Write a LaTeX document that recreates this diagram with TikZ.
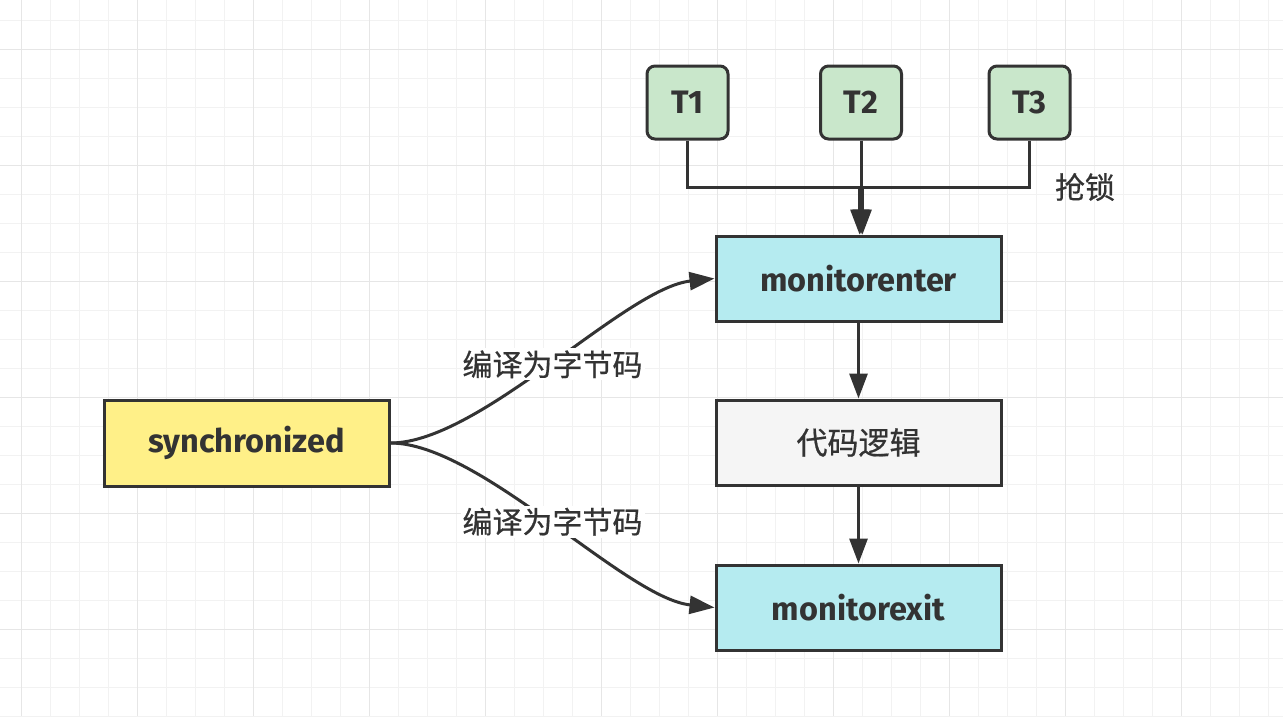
\documentclass[tikz,border=0pt]{standalone}
\usepackage{fontspec}
\newfontfamily\cjk{Noto Sans CJK SC}[FakeBold=0.6]
\newfontfamily\lat{Fira Sans}
\usetikzlibrary{arrows.meta}
\definecolor{ink}{HTML}{333333}
\definecolor{gridmin}{HTML}{F2F2F2}
\definecolor{gridmaj}{HTML}{E6E6E6}
\definecolor{cyanfill}{HTML}{B5EBF0}
\definecolor{greenfill}{HTML}{C9E7CB}
\definecolor{yellowfill}{HTML}{FFF088}
\definecolor{grayfill}{HTML}{F5F5F5}
\tikzset{
  box/.style={draw=ink, line width=3pt, minimum width=285pt, minimum height=85pt,
    inner sep=0pt, text=ink, font=\lat\bfseries\fontsize{32.5}{38}\selectfont},
  tbox/.style={box, rounded corners=8pt, minimum width=81pt, minimum height=73pt, fill=greenfill},
  conn/.style={draw=ink, line width=3pt, -{Triangle[length=25pt,width=18pt]}},
  lab/.style={fill=white, inner sep=2pt, text=ink, font=\cjk\fontsize{30}{36}\selectfont},
  cjktext/.style={text=ink, inner sep=0pt, font=\cjk\fontsize{30}{36}\selectfont}
}
\begin{document}
\begin{tikzpicture}[x=1pt,y=-1pt]
\useasboundingbox (0,0) rectangle (1283,716);
\fill[white] (0,0) rectangle (1283,716);
% grid
\foreach \x in {21,50,...,1283} \draw[gridmin, line width=1pt] (\x,0) -- (\x,716);
\foreach \y in {20,49,...,716} \draw[gridmin, line width=1pt] (0,\y) -- (1283,\y);
\foreach \x in {21,137,...,1283} \draw[gridmaj, line width=1pt] (\x,0) -- (\x,716);
\foreach \y in {49,165,...,716} \draw[gridmaj, line width=1pt] (0,\y) -- (1283,\y);
% nodes
\node[tbox] (T1) at (687.5,102.5) {T1};
\node[tbox] (T2) at (861,102.5) {T2};
\node[tbox] (T3) at (1029.5,102.5) {T3};
\node[box, fill=cyanfill] (enter) at (858.5,278.5) {monitorenter};
\node[box, fill=grayfill, font=\cjk\fontsize{31}{36}\selectfont] (logic) at (858.5,442.5) {代码逻辑};
\node[box, fill=cyanfill] (exit) at (858.5,607.5) {monitorexit};
\node[box, fill=yellowfill, minimum height=86pt] (sync) at (246.5,443) {synchronized};
\node[cjktext] (grab) at (1085,187) {抢锁};
\coordinate (j) at (861,187);
% connectors
\draw[conn] (T1.south) |- ([xshift=-1.5pt]j) -- ([xshift=-1.5pt]j |- enter.north);
\draw[conn] (T3.south) |- ([xshift=1.5pt]j) -- ([xshift=1.5pt]j |- enter.north);
\draw[conn] (T2.south) -- (T2.south |- enter.north);
\draw[conn] (enter) -- (logic);
\draw[conn] (logic) -- (exit);
\draw[conn] (sync.east) .. controls (480,443) and (625,288) .. (enter.west) node[midway, lab] {编译为字节码};
\draw[conn] (sync.east) .. controls (480,443) and (625,598) .. (exit.west) node[midway, lab] {编译为字节码};
\end{tikzpicture}
\end{document}
